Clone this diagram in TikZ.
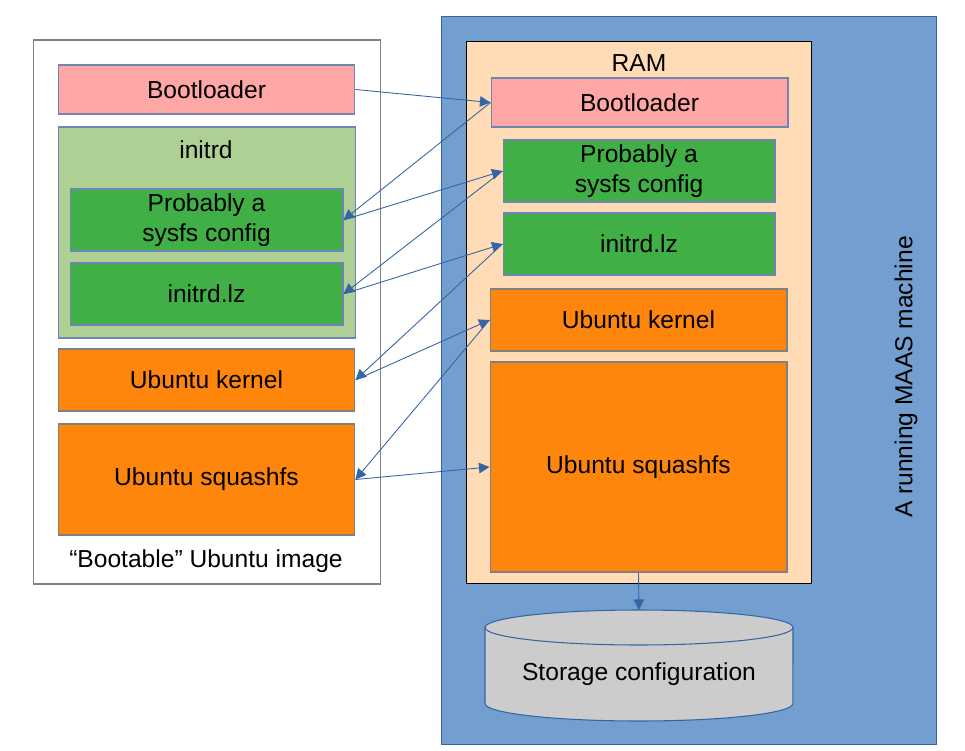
\documentclass[tikz,border=0pt]{standalone}
\usepackage{fontspec}
\setmainfont{Liberation Sans}
\usetikzlibrary{arrows.meta}

\definecolor{pinkbox}{HTML}{FFA6A6}
\definecolor{initgreen}{HTML}{AFD095}
\definecolor{darkgreen}{HTML}{3FAF46}
\definecolor{orangebox}{HTML}{FF860D}
\definecolor{ramcol}{HTML}{FFDBB6}
\definecolor{maasblue}{HTML}{729FCF}
\definecolor{linkblue}{HTML}{3465A4}
\definecolor{edgeblue}{HTML}{6F86B5}
\definecolor{diskgray}{HTML}{CCCCCC}

\tikzset{
  txt/.style={font=\fontsize{14}{17}\selectfont, align=center},
  part/.style={txt, draw=edgeblue, line width=0.6pt, inner sep=0pt},
  link/.style={draw=linkblue, line width=0.5pt, -{Triangle[length=6pt,width=6pt]}},
}

\begin{document}
\begin{tikzpicture}[x=0.02cm, y=-0.02cm]
\useasboundingbox (0,0) rectangle (965,751);

% the image on disk
\node (A) at (207,312) [draw=gray, line width=0.7pt, fill=white, minimum width=6.94cm, minimum height=10.88cm]{};
\node (A-1) at (206.5,89.5) [part, fill=pinkbox, minimum width=5.94cm, minimum height=0.98cm]{Bootloader};
\node (A-2) at (207,232.5) [part, fill=initgreen, minimum width=5.96cm, minimum height=4.22cm]{};
\node (A-2t) at (206,150) [txt]{initrd};
\node (A-3) at (206.5,220) [part, fill=darkgreen, minimum width=5.46cm, minimum height=1.24cm]{Probably a\\sysfs config};
\node (A-4) at (206.5,294) [part, fill=darkgreen, minimum width=5.46cm, minimum height=1.24cm]{initrd.lz};
\node (A-5) at (206.5,380) [part, draw=gray, fill=orangebox, minimum width=5.94cm, minimum height=1.24cm]{Ubuntu kernel};
\node (A-6) at (206.5,479.5) [part, draw=gray, fill=orangebox, minimum width=5.94cm, minimum height=2.22cm]{Ubuntu squashfs};
\node (A-t) at (206,561) [txt]{“Bootable” Ubuntu image};

% the machine
\node (M) at (689,380.5) [draw=linkblue, line width=0.6pt, fill=maasblue, minimum width=9.92cm, minimum height=14.58cm]{};
\node (M-t) at (906,377) [txt, rotate=90]{A running MAAS machine};

\node (B) at (639,312.5) [draw=black, line width=0.6pt, fill=ramcol, minimum width=6.92cm, minimum height=10.86cm]{};
\node (B-t) at (639,63) [txt]{RAM};
\node (B-1) at (639.5,102.5) [part, fill=pinkbox, minimum width=5.94cm, minimum height=0.98cm]{Bootloader};
\node (B-2) at (639,171) [part, fill=darkgreen, minimum width=5.44cm, minimum height=1.24cm]{Probably a\\sysfs config};
\node (B-3) at (639,244) [part, fill=darkgreen, minimum width=5.44cm, minimum height=1.24cm]{initrd.lz};
\node (B-4) at (638.5,320) [part, draw=gray, fill=orangebox, minimum width=5.94cm, minimum height=1.24cm]{Ubuntu kernel};
\node (B-5) at (638.5,467) [part, draw=gray, fill=orangebox, minimum width=5.94cm, minimum height=4.2cm]{Ubuntu squashfs};

% storage
\path [fill=diskgray, draw=linkblue, line width=0.6pt] (485,627.5) -- (485,703.5)
  arc [start angle=180, end angle=360, x radius=3.08cm, y radius=0.35cm] -- (793,627.5)
  arc [start angle=0, end angle=180, x radius=3.08cm, y radius=0.35cm] -- cycle;
\draw [linkblue, line width=0.6pt] (485,627.5) arc [start angle=180, end angle=360, x radius=3.08cm, y radius=0.35cm];
\node (C) at (639,674) [txt]{Storage configuration};
\coordinate (C-top) at (639,610);

% copying into memory
\draw [link] (A-1.east) -- (B-1.west);
\draw [link] (B-1.west) -- (A-3.east);
\draw [link] (A-3.east) -- (B-2.west);
\draw [link] (B-2.west) -- (A-4.east);
\draw [link] (A-4.east) -- (B-3.west);
\draw [link] (B-3.west) -- (A-5.east);
\draw [link] (A-5.east) -- (B-4.west);
\draw [link] (B-4.west) -- (A-6.east);
\draw [link] (A-6.east) -- (B-5.west);

\draw [link] (B-5.south) -- (C-top);

\end{tikzpicture}
\end{document}
